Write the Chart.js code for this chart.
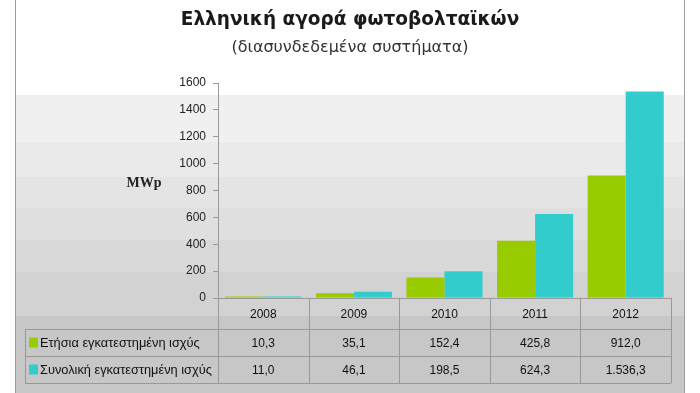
<!DOCTYPE html>
<html lang="el">
<head>
<meta charset="utf-8">
<title>Ελληνική αγορά φωτοβολταϊκών</title>
<script src="https://cdn.jsdelivr.net/npm/chart.js@4.4.1/dist/chart.umd.min.js"></script>
<style>
    html, body { margin: 0; padding: 0; background: #fff; }
    #wrap { width: 700px; height: 393px; position: relative; }
</style>
</head>
<body>
<div id="wrap"><canvas id="pvChart"></canvas></div>
<script>
// data (MWp)
const years = ['2008', '2009', '2010', '2011', '2012'];
const annualMW = [10.3, 35.1, 152.4, 425.8, 912.0];
const cumulativeMW = [11.0, 46.1, 198.5, 624.3, 1536.3];
const seriesNames = ['Ετήσια εγκατεστημένη ισχύς', 'Συνολική εγκατεστημένη ισχύς'];
const seriesColors = ['#99cc00', '#33cccc'];
const yMax = 1600;
const yStep = 200;

const titleText = 'Ελληνική αγορά φωτοβολταϊκών';
const subtitleText = '(διασυνδεδεμένα συστήματα)';
const unitLabel = 'MWp';

// greek style number: 1.536,3
function grNumber(v) {
    const parts = v.toFixed(1).split('.');
    const intPart = parts[0].replace(/\B(?=(\d{3})+(?!\d))/g, '.');
    return intPart + ',' + parts[1];
}

// grey stepped background inside the frame (top y of each band)
const bands = [
    [95, '#f0f0f0'], [142, '#eaeaea'], [177, '#e4e4e4'], [208, '#dfdfdf'],
    [240, '#d9d9d9'], [272, '#d2d2d2'], [316, '#c7c7c7']
];

const backdrop = {
    id: 'backdrop',
    beforeDraw(chart) {
        const c = chart.ctx;
        const H = chart.height;
        c.save();
        c.fillStyle = '#fff';
        c.fillRect(0, 0, chart.width, H);
        bands.forEach((b, i) => {
            const y2 = i < bands.length - 1 ? bands[i + 1][0] : H;
            c.fillStyle = b[1];
            c.fillRect(15, b[0], 670, y2 - b[0]);
        });
        c.strokeStyle = '#9c9c9c';
        c.lineWidth = 1;
        c.beginPath();
        c.moveTo(15.5, 0); c.lineTo(15.5, H);
        c.moveTo(684.5, 0); c.lineTo(684.5, H);
        c.stroke();

        // titles
        c.fillStyle = '#1a1a1a';
        c.textAlign = 'center';
        c.textBaseline = 'middle';
        c.font = 'bold 18.5px "DejaVu Sans"';
        c.fillText(titleText, 350, 20);
        c.fillStyle = '#333';
        c.font = '16px "DejaVu Sans"';
        c.fillText(subtitleText, 350, 48);

        // unit label
        c.fillStyle = '#222';
        c.font = 'bold 14px "Liberation Serif"';
        c.fillText(unitLabel, 144, 183);
        c.restore();
    }
};

// data table under the plot (years + values with legend keys)
const dataTable = {
    id: 'dataTable',
    afterDraw(chart) {
        const c = chart.ctx;
        const area = chart.chartArea;
        const colW = (area.right - area.left) / years.length;
        const rowTop = [area.bottom, 329, 356, 383];
        const tableLeft = 25;
        c.save();
        c.strokeStyle = '#999';
        c.lineWidth = 1;
        c.beginPath();
        // axis line at zero
        c.moveTo(area.left, Math.round(area.bottom) + 0.5);
        c.lineTo(area.right, Math.round(area.bottom) + 0.5);
        // horizontal rules of the value rows
        for (let r = 1; r < rowTop.length; r++) {
            c.moveTo(tableLeft, rowTop[r] + 0.5);
            c.lineTo(area.right, rowTop[r] + 0.5);
        }
        c.moveTo(tableLeft + 0.5, rowTop[1]);
        c.lineTo(tableLeft + 0.5, rowTop[3]);
        for (let i = 0; i <= years.length; i++) {
            const x = Math.round(area.left + i * colW) + 0.5;
            c.moveTo(x, area.bottom);
            c.lineTo(x, rowTop[3]);
        }
        c.stroke();

        c.textAlign = 'center';
        c.textBaseline = 'middle';
        c.font = '12px "Liberation Sans"';
        c.fillStyle = '#111';
        const rows = [annualMW, cumulativeMW];
        years.forEach((yr, i) => {
            const cx = area.left + (i + 0.5) * colW;
            c.fillText(yr, cx, (rowTop[0] + rowTop[1]) / 2 + 1);
            rows.forEach((vals, r) => {
                c.fillText(grNumber(vals[i]), cx, (rowTop[r + 1] + rowTop[r + 2]) / 2 + 1);
            });
        });

        // legend keys + series names
        c.textAlign = 'left';
        c.font = '12.8px "Liberation Sans"';
        seriesNames.forEach((name, r) => {
            const cy = (rowTop[r + 1] + rowTop[r + 2]) / 2;
            c.fillStyle = seriesColors[r];
            c.fillRect(29, cy - 5, 9, 10);
            c.fillStyle = '#111';
            c.fillText(name, 40, cy + 1);
        });
        c.restore();
    }
};

document.addEventListener('DOMContentLoaded', function () {
    const ctx = document.getElementById('pvChart').getContext('2d');

    new Chart(ctx, {
        type: 'bar',
        data: {
            labels: years,
            datasets: [{
                label: seriesNames[0],
                data: annualMW,
                backgroundColor: seriesColors[0]
            }, {
                label: seriesNames[1],
                data: cumulativeMW,
                backgroundColor: seriesColors[1]
            }]
        },
        options: {
            responsive: true,
            maintainAspectRatio: false,
            animation: false,
            layout: { padding: { left: 148, right: 29, top: 83, bottom: 95 } },
            datasets: { bar: { categoryPercentage: 0.84, barPercentage: 1.0 } },
            plugins: {
                legend: { display: false },
                tooltip: { enabled: false }
            },
            scales: {
                x: { display: false },
                y: {
                    min: 0,
                    max: yMax,
                    ticks: {
                        stepSize: yStep,
                        color: '#222',
                        padding: 7,
                        font: { family: 'Liberation Sans', size: 12 },
                        callback: function (value) { return String(value); }
                    },
                    grid: { drawOnChartArea: false, color: '#999', tickLength: 5 },
                    border: { color: '#999' },
                    afterFit(scale) { scale.width = 70; }
                }
            }
        },
        plugins: [backdrop, dataTable]
    });
});
</script>
</body>
</html>
